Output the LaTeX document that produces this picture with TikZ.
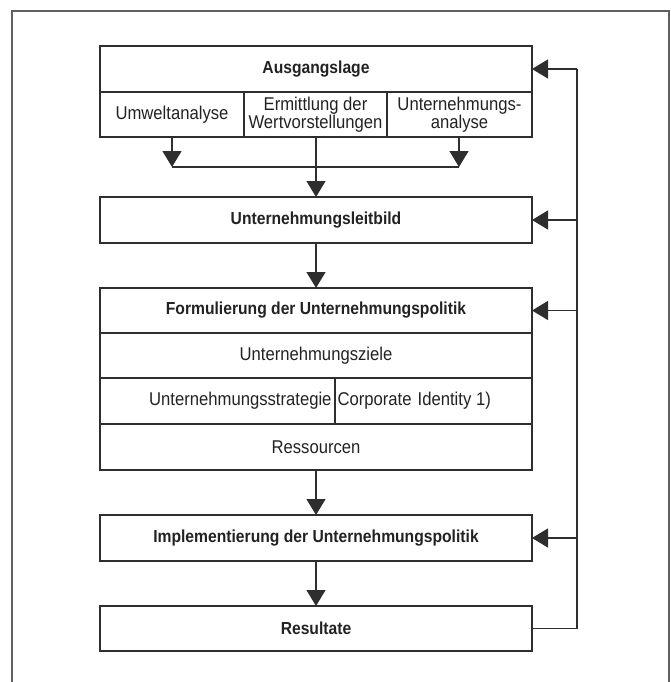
\documentclass[tikz,border=0pt]{standalone}
\usepackage{fontspec}
\setmainfont{Liberation Sans}[FakeStretch=0.9]
\usetikzlibrary{arrows.meta}
\definecolor{ln}{HTML}{2E2E2E}
\definecolor{fr}{HTML}{606060}
\definecolor{tx}{HTML}{222222}
\tikzset{
  cell/.style={draw=ln, line width=1.3pt, inner sep=0pt, outer sep=0pt, text=tx,
    font=\fontsize{18.5}{18.5}\selectfont, align=center},
  headcell/.style={cell, font=\fontsize{17.4}{18}\selectfont\bfseries},
  flow/.style={draw=ln, line width=1.3pt, -{Triangle[length=16pt,width=19pt]}},
  plain/.style={draw=ln, line width=1.3pt},
  frame/.style={draw=fr, line width=1.1pt}
}
\begin{document}
\begin{tikzpicture}[x=1pt,y=-1pt]
\useasboundingbox (0,0) rectangle (671,682);
% outer frame (open at the bottom)
\draw[frame] (12,682) -- (12,11) -- (669,11) -- (669,682);

% Ausgangslage
\node[headcell, minimum width=432, minimum height=46] (aus) at (316,69) {Ausgangslage};
\node[cell, minimum width=144, minimum height=45] (umw) at (172,114.5) {Umweltanalyse};
\node[cell, minimum width=143, minimum height=45] (erm) at (315.5,114.5) {Ermittlung der\\Wertvorstellungen};
\node[cell, minimum width=145, minimum height=45] (una) at (459.5,114.5) {Unternehmungs-\\analyse};
\coordinate (jl) at (172,167);
\coordinate (jr) at (459,167);
\draw[flow] (umw.south) -- (jl);
\draw[flow] (una.south -| jr) -- (jr);
\draw[plain] (jl) -- (jr);

% Leitbild
\node[headcell, minimum width=432, minimum height=46] (leit) at (316,220) {Unternehmungsleitbild};
\draw[flow] (erm.south -| leit.north) -- (leit.north);

% Formulierung
\node[headcell, minimum width=432, minimum height=45] (form) at (316,310.5) {Formulierung der Unternehmungspolitik};
\node[cell, minimum width=432, minimum height=45] (ziel) at (316,355.5) {Unternehmungsziele};
\node[cell, minimum width=235, minimum height=46, text width=228, align=right] (strat) at (217.5,401) {Unternehmungsstrategie};
\node[cell, minimum width=197, minimum height=46, text width=192, align=left] (ci) at (433.5,401) {Corporate Identity\kern-1.5pt{} 1)};
\node[cell, minimum width=432, minimum height=46] (res) at (316,447) {Ressourcen};
\draw[flow] (leit.south) -- (form.north);

% Implementierung
\node[headcell, minimum width=432, minimum height=46] (impl) at (316,538) {Implementierung der Unternehmungspolitik};
\draw[flow] (res.south) -- (impl.north);

% Resultate
\node[headcell, minimum width=432, minimum height=45] (resu) at (316,628.5) {Resultate};
\draw[flow] (impl.south) -- (resu.north);

% feedback loop
\coordinate (fb0) at (577,628.5);
\coordinate (fb1) at (577,69);
\coordinate (fb2) at (577,220);
\coordinate (fb3) at (577,310.5);
\coordinate (fb4) at (577,538);
\draw[plain] (resu.east) -- (fb0) -- (fb1);
\draw[flow] (fb1) -- (aus.east);
\draw[flow] (fb2) -- (leit.east);
\draw[flow] (fb3) -- (form.east);
\draw[flow] (fb4) -- (impl.east);
\end{tikzpicture}
\end{document}
